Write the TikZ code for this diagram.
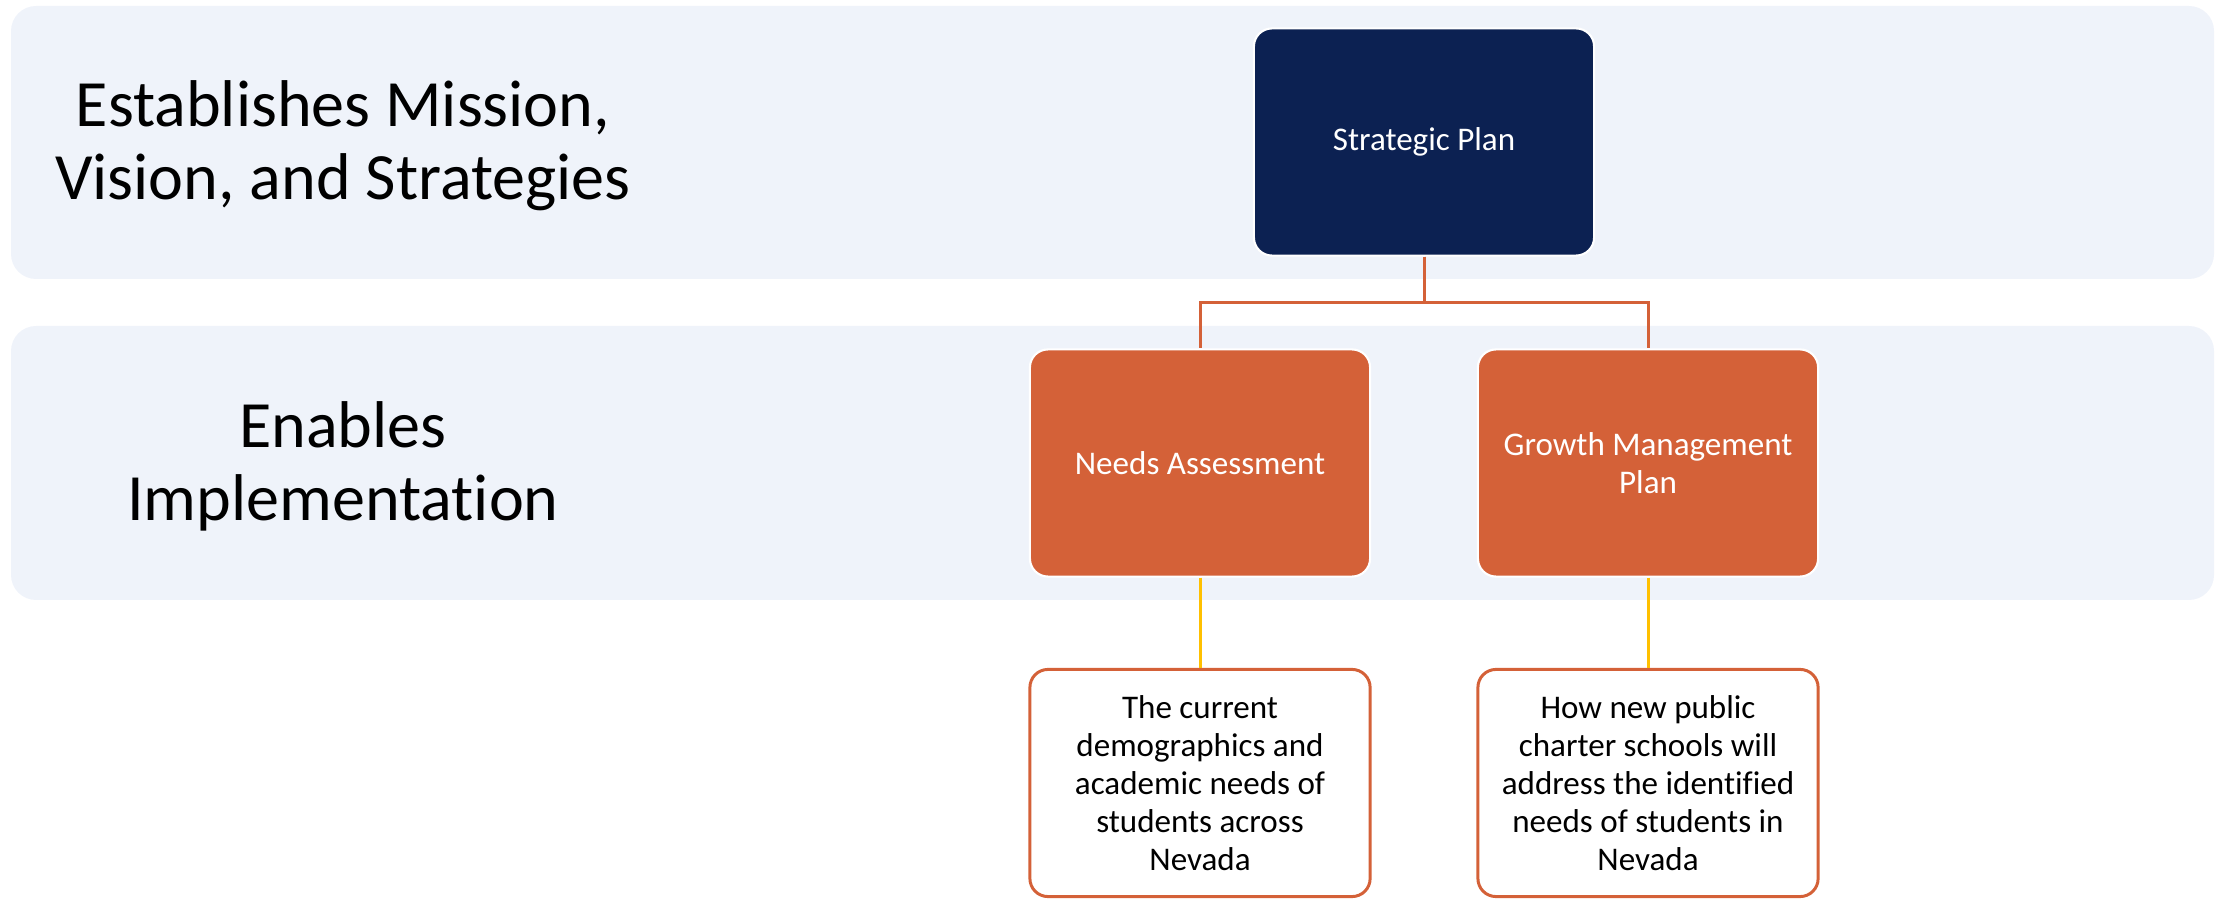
\documentclass[tikz,border=0pt]{standalone}
\usepackage{fontspec}
\setmainfont{Carlito}[Ligatures=NoCommon]
\definecolor{navy}{HTML}{0C2152}
\definecolor{rust}{HTML}{D46138}
\definecolor{gold}{HTML}{FFC000}
\definecolor{bandblue}{HTML}{EFF3FA}
\begin{document}
\begin{tikzpicture}[x=0.01cm,y=-0.01cm,
	band/.style={fill=bandblue,rounded corners=0.25cm},
	side text/.style={align=center,font=\fontsize{18.8}{20.8}\selectfont},
	main node/.style={rounded corners=0.18cm,draw=white,line width=0.6pt,text=white,align=center,inner sep=0pt,minimum width=3.4cm,minimum height=2.27cm,font=\fontsize{9.4}{10.8}\selectfont},
	top node/.style={main node,fill=navy},
	mid node/.style={main node,fill=rust},
	leaf node/.style={main node,fill=white,draw=rust,line width=0.85pt,text=black},
	link/.style={draw=rust,line width=0.85pt},
	leaf link/.style={draw=gold,line width=0.85pt}]
	\useasboundingbox (0,0) rectangle (2216,901);
	\fill[band] (11,6) rectangle (2214,279);
	\fill[band] (11,326) rectangle (2214,600);
	\node[side text] (mission) at (343,146) {Establishes Mission,\\Vision, and Strategies};
	\node[side text] (enables) at (343,466) {Enables\\Implementation};
	\node[top node] (plan) at (1424,142) {Strategic Plan};
	\node[mid node] (needs) at (1200,463) {Needs Assessment};
	\node[mid node] (growth) at (1648,463) {Growth Management\\Plan};
	\node[leaf node] (needsinfo) at (1200,783) {The current\\demographics and\\academic needs of\\students across\\Nevada};
	\node[leaf node] (growthinfo) at (1648,783) {How new public\\charter schools will\\address the identified\\needs of students in\\Nevada};
	\draw[link] (plan.south) -- ++(0,46) -| (needs.north);
	\draw[link] (plan.south) -- ++(0,46) -| (growth.north);
	\draw[leaf link] (needs.south) -- (needsinfo.north);
	\draw[leaf link] (growth.south) -- (growthinfo.north);
\end{tikzpicture}
\end{document}
